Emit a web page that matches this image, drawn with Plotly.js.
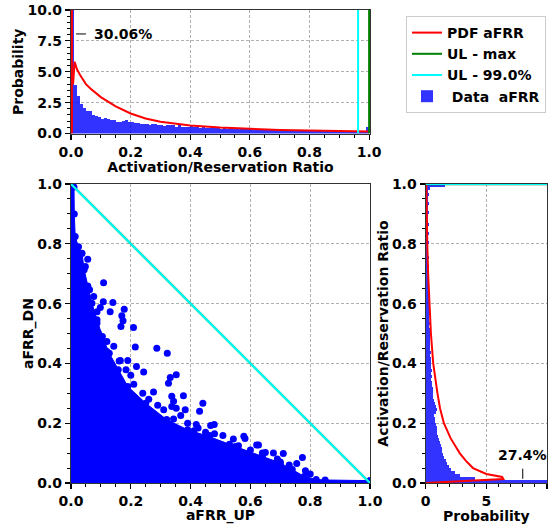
<!DOCTYPE html>
<html>
<head>
<meta charset="utf-8">
<script src="https://cdn.plot.ly/plotly-3.0.1.min.js"></script>
<style>html,body{margin:0;padding:0;background:#fff;}#chart{width:556px;height:524px;}</style>
</head>
<body>
<div id="chart"></div>
<script>
// ---- Top histogram: Activation/Reservation ratio (100 bins of 0.01) ----
const topBins = [30.06, 3.95, 3.0, 2.35, 2.07, 1.85, 1.8, 1.53, 1.45, 1.35,
  1.2, 1.26, 1.18, 1.08, 1.13, 0.97, 0.97, 1.02, 1.08, 0.97,
  0.91, 0.89, 0.86, 0.75, 0.8, 0.78, 0.7, 0.75, 0.73, 0.7,
  0.65, 0.6, 0.7, 0.65, 0.65, 0.54, 0.65, 0.54, 0.56, 0.51,
  0.6, 0.5, 0.55, 0.45, 0.5, 0.48, 0.45, 0.5, 0.42, 0.45,
  0.4, 0.42, 0.38, 0.45, 0.4, 0.36, 0.38, 0.35, 0.33, 0.36,
  0.35, 0.3, 0.33, 0.32, 0.3, 0.28, 0.3, 0.27, 0.25, 0.28,
  0.26, 0.25, 0.3, 0.27, 0.24, 0.3, 0.25, 0.22, 0.24, 0.25,
  0.22, 0.23, 0.25, 0.28, 0.2, 0.2, 0.22, 0.2, 0.18, 0.2,
  0.18, 0.2, 0.17, 0.18, 0.2, 0.16, 0.18, 0.17, 0.15, 0.55];

// PDF curve over the top histogram
const pdfTopX = [0.003, 0.003, null, 0.007, 0.012, 0.02, 0.03, 0.05, 0.065, 0.1, 0.15, 0.2, 0.25, 0.3, 0.4, 0.5, 0.6, 0.7, 0.8, 0.9, 1.0];
const pdfTopY = [0, 12, null, 4.0, 5.8, 5.2, 4.75, 4.0, 3.65, 2.95, 2.2, 1.62, 1.22, 0.96, 0.65, 0.48, 0.37, 0.29, 0.24, 0.19, 0.16];

// Upper limits
const ulTopMax = 1.0;
const ulTop99 = 0.963;
const ulMax = 1.0;
const ul99 = 1.0;

// ---- Scatter aFRR_UP vs aFRR_DN ----
// envelope of the dense cloud
const envX = [0, 0.010, 0.011, 0.014, 0.025, 0.037, 0.044, 0.056, 0.07, 0.087, 0.105, 0.128, 0.158, 0.19, 0.25, 0.32, 0.39, 0.46, 0.55, 0.64, 0.7, 0.74, 0.78, 0.82, 0.85, 1.0, 1.0];
const envY = [1.0, 0.99, 0.90, 0.824, 0.79, 0.768, 0.713, 0.657, 0.601, 0.546, 0.49, 0.434, 0.379, 0.323, 0.267, 0.212, 0.178, 0.156, 0.122, 0.089, 0.067, 0.045, 0.022, 0.012, 0.01, 0.008, 0];
// scattered points outside the dense cloud
const ptsUp = [0.109, 0.108, 0.140, 0.178, 0.170, 0.174, 0.167, 0.131, 0.209, 0.215, 0.287, 0.322, 0.19, 0.161, 0.219, 0.243, 0.184, 0.332, 0.352, 0.326, 0.276, 0.376, 0.337, 0.343, 0.337, 0.352, 0.367, 0.382, 0.43, 0.441, 0.419, 0.425, 0.464, 0.48, 0.467, 0.479, 0.411, 0.343, 0.315, 0.508, 0.543, 0.578, 0.582, 0.621, 0.627, 0.65, 0.677, 0.71, 0.774, 0.784, 0.755, 0.098, 0.029, 0.056, 0.048, 0.037, 0.039, 0.056, 0.062, 0.076, 0.037, 0.087, 0.070, 0.087, 0.092, 0.065, 0.12, 0.143, 0.12, 0.165, 0.146, 0.26, 0.29, 0.31, 0.24, 0.21, 0.2, 0.39, 0.45, 0.53, 0.56, 0.6, 0.64, 0.69, 0.73, 0.8, 0.7];
const ptsDn = [0.670, 0.606, 0.604, 0.581, 0.559, 0.543, 0.523, 0.573, 0.520, 0.455, 0.451, 0.434, 0.41, 0.408, 0.39, 0.371, 0.379, 0.353, 0.362, 0.334, 0.304, 0.292, 0.29, 0.273, 0.256, 0.25, 0.226, 0.245, 0.24, 0.267, 0.196, 0.184, 0.159, 0.165, 0.192, 0.196, 0.175, 0.214, 0.209, 0.159, 0.147, 0.156, 0.149, 0.127, 0.127, 0.102, 0.1, 0.099, 0.085, 0.041, 0.065, 0.587, 0.757, 0.748, 0.724, 0.695, 0.679, 0.659, 0.646, 0.624, 0.629, 0.573, 0.535, 0.535, 0.501, 0.479, 0.473, 0.457, 0.44, 0.41, 0.379, 0.28, 0.26, 0.245, 0.30, 0.33, 0.36, 0.2, 0.17, 0.13, 0.125, 0.11, 0.1, 0.08, 0.06, 0.03, 0.07];

// ---- Right histogram (horizontal) ----
const rightBins = [27.4, 4.08, 2.84, 2.42, 2.07, 1.96, 1.79, 1.68, 1.52, 1.46,
  1.38, 1.32, 1.24, 1.18, 1.13, 1.05, 0.96, 0.96, 0.91, 0.85,
  0.77, 0.77, 0.72, 0.85, 0.91, 0.85, 0.77, 0.69, 0.63, 0.58,
  0.63, 0.58, 0.5, 0.55, 0.47, 0.5, 0.44, 0.5, 0.44, 0.41,
  0.44, 0.4, 0.38, 0.4, 0.36, 0.38, 0.35, 0.33, 0.36, 0.34,
  0.32, 0.33, 0.3, 0.32, 0.29, 0.3, 0.28, 0.3, 0.27, 0.28,
  0.3, 0.26, 0.35, 0.27, 0.25, 0.28, 0.26, 0.24, 0.25, 0.23,
  0.25, 0.22, 0.24, 0.23, 0.21, 0.24, 0.22, 0.2, 0.23, 0.21,
  0.28, 0.22, 0.2, 0.3, 0.21, 0.19, 0.27, 0.2, 0.22, 0.19,
  0.3, 0.2, 0.18, 0.28, 0.2, 0.19, 0.25, 0.2, 0.35, 1.6];
const pdfRightY = [0, 0.013, 0.02, 0.03, 0.05, 0.075, 0.1, 0.15, 0.2, 0.25, 0.3, 0.35, 0.4, 0.5, 0.6, 0.7, 0.8, 0.9, 1.0];
const pdfRightX = [0, 6.4, 6.3, 5.0, 3.9, 3.3, 2.8, 2.05, 1.5, 1.18, 0.97, 0.8, 0.62, 0.43, 0.3, 0.2, 0.13, 0.08, 0.05];

const binCenters = topBins.map((_, i) => (i + 0.5) / 100);
const binCentersR = rightBins.map((_, i) => (i + 0.5) / 100);

const FONT = 'DejaVu Sans, Verdana, sans-serif';
const BLUE_BAR = 'rgba(0,0,255,0.8)';
const RED = '#ff0000', GREEN = '#008000', CYAN = '#00ffff';

const traces = [
  // top histogram
  {type: 'bar', x: binCenters, y: topBins, width: 0.01, marker: {color: BLUE_BAR, line: {width: 0}},
   xaxis: 'x', yaxis: 'y', name: '\u00a0Data\u00a0\u00a0aFRR', legendrank: 4, hoverinfo: 'skip'},
  {type: 'scatter', mode: 'lines', x: pdfTopX, y: pdfTopY, line: {color: RED, width: 2},
   xaxis: 'x', yaxis: 'y', name: 'PDF aFRR', legendrank: 1},
  {type: 'scatter', mode: 'lines', x: [ulTopMax, ulTopMax], y: [0, 10], line: {color: GREEN, width: 2},
   xaxis: 'x', yaxis: 'y', name: 'UL - max', legendrank: 2},
  {type: 'scatter', mode: 'lines', x: [ulTop99, ulTop99], y: [0, 10], line: {color: CYAN, width: 2},
   xaxis: 'x', yaxis: 'y', name: 'UL - 99.0%', legendrank: 3},

  // scatter dense region
  {type: 'scatter', mode: 'lines+markers', x: envX, y: envY, fill: 'tozeroy', fillcolor: '#0000ff',
   line: {color: '#0000ff', width: 1}, marker: {color: '#0000ff', size: 7},
   xaxis: 'x2', yaxis: 'y2', showlegend: false},
  {type: 'scatter', mode: 'markers', x: ptsUp, y: ptsDn, marker: {color: '#0000ff', size: 7},
   xaxis: 'x2', yaxis: 'y2', showlegend: false},
  {type: 'scatter', mode: 'lines', x: [0, ulMax], y: [ulMax, 0], line: {color: GREEN, width: 2.2},
   xaxis: 'x2', yaxis: 'y2', showlegend: false},
  {type: 'scatter', mode: 'lines', x: [0, ul99], y: [ul99, 0], line: {color: CYAN, width: 2},
   xaxis: 'x2', yaxis: 'y2', showlegend: false},

  // right histogram
  {type: 'bar', orientation: 'h', y: binCentersR, x: rightBins, width: 0.01,
   marker: {color: BLUE_BAR, line: {width: 0}}, xaxis: 'x3', yaxis: 'y3', showlegend: false},
  {type: 'scatter', mode: 'lines', x: pdfRightX, y: pdfRightY, line: {color: RED, width: 2},
   xaxis: 'x3', yaxis: 'y3', showlegend: false},
  {type: 'scatter', mode: 'lines', x: [0, 10], y: [ulMax, ulMax], line: {color: GREEN, width: 2.4},
   xaxis: 'x3', yaxis: 'y3', showlegend: false},
  {type: 'scatter', mode: 'lines', x: [0, 10], y: [ul99, ul99], line: {color: CYAN, width: 1.8},
   xaxis: 'x3', yaxis: 'y3', showlegend: false}
];

const W = 556, H = 524;
const dx = (a, b) => [a / W, b / W];
const dy = (top, bottom) => [1 - bottom / H, 1 - top / H];

const FS = 14;
const tickFont = {family: FONT, size: FS, weight: 'bold', color: '#000'};
const titleFont = {family: FONT, size: FS, weight: 'bold', color: '#000'};
const minorOpts = (d) => ({dtick: d, ticks: 'outside', ticklen: 3, tickwidth: 1, tickcolor: '#000', showgrid: false});

function ax(extra) {
  return Object.assign({
    showline: true, mirror: true, linecolor: '#333', linewidth: 1.2,
    ticks: 'outside', ticklen: 5, tickwidth: 1.2, tickcolor: '#000',
    showgrid: true, gridcolor: '#b0b0b0', griddash: '3px,2px', gridwidth: 1,
    zeroline: false, tickfont: tickFont, automargin: false, fixedrange: true
  }, extra);
}

const layout = {
  width: W, height: H,
  margin: {l: 0, r: 0, t: 0, b: 0},
  paper_bgcolor: '#fff', plot_bgcolor: '#fff',
  showlegend: true,
  bargap: 0,
  legend: {x: 406 / W, y: 1 - 16 / H, xanchor: 'left', yanchor: 'top',
    bgcolor: '#fff', bordercolor: '#cccccc', borderwidth: 1,
    font: {family: FONT, size: FS, weight: 'bold', color: '#000'},
    tracegroupgap: 0},
  xaxis: ax({domain: dx(71, 370), anchor: 'y', range: [0, 1.003], tickvals: [0, 0.2, 0.4, 0.6, 0.8, 1.0], tickformat: '.1f',
    minor: minorOpts(0.05),
    title: {text: 'Activation/Reservation Ratio', font: titleFont, standoff: 1}}),
  yaxis: ax({domain: dy(10, 133.5), anchor: 'x', range: [0, 10], dtick: 2.5, tickformat: '.1f',
    minor: minorOpts(0.5),
    title: {text: 'Probability', font: titleFont, standoff: 0}}),
  xaxis2: ax({domain: dx(71, 370), anchor: 'y2', range: [0, 1], dtick: 0.2, tickformat: '.1f',
    minor: minorOpts(0.05),
    title: {text: 'aFRR_UP', font: titleFont, standoff: 0}}),
  yaxis2: ax({domain: dy(184, 483), anchor: 'x2', range: [0, 1], dtick: 0.2, tickformat: '.1f',
    minor: minorOpts(0.05),
    title: {text: 'aFRR_DN', font: titleFont, standoff: 0}}),
  xaxis3: ax({domain: dx(425.7, 547), anchor: 'y3', range: [0, 10], dtick: 5, tickformat: 'd',
    minor: minorOpts(1),
    title: {text: 'Probability', font: titleFont, standoff: 0}}),
  yaxis3: ax({domain: dy(184, 483), anchor: 'x3', range: [0, 1], dtick: 0.2, tickformat: '.1f',
    minor: minorOpts(0.05),
    title: {text: 'Activation/Reservation Ratio', font: titleFont, standoff: 0}}),
  annotations: [
    {xref: 'x', yref: 'y', x: 0.072, y: 8.06, xanchor: 'left', yanchor: 'middle', showarrow: false,
     text: topBins[0].toFixed(2) + '%', font: {family: FONT, size: FS, weight: 'bold', color: '#000'}},
    {xref: 'x3', yref: 'y3', x: 8, y: 0.094, xanchor: 'center', yanchor: 'middle', showarrow: false,
     text: rightBins[0].toFixed(1) + '%', font: {family: FONT, size: FS, weight: 'bold', color: '#000'}}
  ],
  shapes: [
    {type: 'line', xref: 'x', yref: 'y', x0: 0.017, x1: 0.05, y0: 8.06, y1: 8.06, line: {color: '#000', width: 1}},
    {type: 'line', xref: 'x3', yref: 'y3', x0: 8, x1: 8, y0: 0.014, y1: 0.048, line: {color: '#000', width: 1}}
  ]
};

Plotly.newPlot('chart', traces, layout, {staticPlot: true, displayModeBar: false});
</script>
</body>
</html>
